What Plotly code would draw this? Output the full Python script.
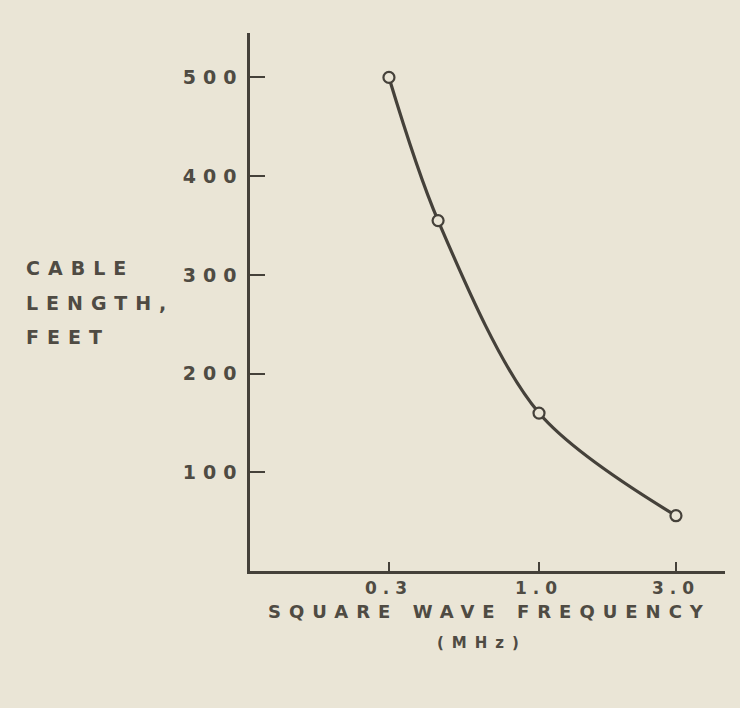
import plotly.graph_objects as go

# Measured points: cable length vs. square-wave frequency
freq_mhz = [0.3, 0.445, 1.0, 3.0]
cable_ft = [500, 355, 160, 56]

x_tick_vals = [0.3, 1.0, 3.0]
x_tick_text = ["0.3", "1.0", "3.0"]
y_tick_vals = [100, 200, 300, 400, 500]
y_tick_text = ["100", "200", "300", "400", "500"]

y_title_lines = ["CABLE", "LENGTH,", "FEET"]
x_title_lines = ["SQUARE WAVE FREQUENCY", "(MHz)"]

paper = "#eae5d6"
ink = "#45413a"
text_ink = "#4f4b43"
font_family = "DejaVu Sans"

# plot area in pixels (for placing the free text)
L, R, T, B = 250, 15, 33, 137
W, H = 740, 708
pw, ph = W - L - R, H - T - B


def px_x(x):
    return (x - L) / pw


def px_y(y):
    return (H - B - y) / ph


fig = go.Figure()
fig.add_trace(go.Scatter(
    x=freq_mhz, y=cable_ft,
    mode="lines+markers",
    line=dict(color=ink, width=3.2, shape="spline", smoothing=0.9),
    marker=dict(symbol="circle", size=11, color=paper,
                line=dict(color=ink, width=2.2)),
    showlegend=False, hoverinfo="skip",
))

annotations = []
for i, line in enumerate(y_title_lines):
    annotations.append(dict(
        text=line, xref="paper", yref="paper",
        x=px_x(24), y=px_y(268 + 34.5 * i), xanchor="left", yanchor="middle",
        align="left", showarrow=False, font=dict(size=19, color=text_ink)))
annotations.append(dict(
    text=x_title_lines[0], xref="paper", yref="paper",
    x=px_x(490), y=px_y(611), xanchor="center", yanchor="middle",
    showarrow=False, font=dict(size=18, color=text_ink)))
annotations.append(dict(
    text=x_title_lines[1], xref="paper", yref="paper",
    x=px_x(482), y=px_y(643), xanchor="center", yanchor="middle",
    showarrow=False, font=dict(size=15, color=text_ink)))

fig.update_layout(
    width=W, height=H,
    margin=dict(l=L, r=R, t=T, b=B),
    paper_bgcolor=paper, plot_bgcolor=paper,
    font=dict(family=font_family, color=text_ink, size=19, weight="bold"),
    xaxis=dict(
        type="log", range=[-1.007, 0.648],
        tickvals=x_tick_vals, ticktext=x_tick_text,
        ticks="inside", ticklen=9, tickwidth=2, tickcolor=ink,
        showline=True, linecolor=ink, linewidth=2.5,
        showgrid=False, zeroline=False,
        tickfont=dict(size=17, color=text_ink),
    ),
    yaxis=dict(
        range=[0, 545],
        tickvals=y_tick_vals, ticktext=y_tick_text,
        ticks="inside", ticklen=15, tickwidth=2, tickcolor=ink,
        showline=True, linecolor=ink, linewidth=2.5,
        showgrid=False, zeroline=False,
        tickfont=dict(size=19, color=text_ink),
    ),
    annotations=annotations,
)

# Widely spaced stencil-style lettering
spacing_css = """
var st = document.createElement('style');
st.textContent = '.js-plotly-plot .ytick text{letter-spacing:7px}'
  + '.js-plotly-plot .xtick text{letter-spacing:6px}'
  + '.js-plotly-plot .annotation-text{letter-spacing:8px}';
document.head.appendChild(st);
"""

fig.write_html("out.html", post_script=spacing_css)
